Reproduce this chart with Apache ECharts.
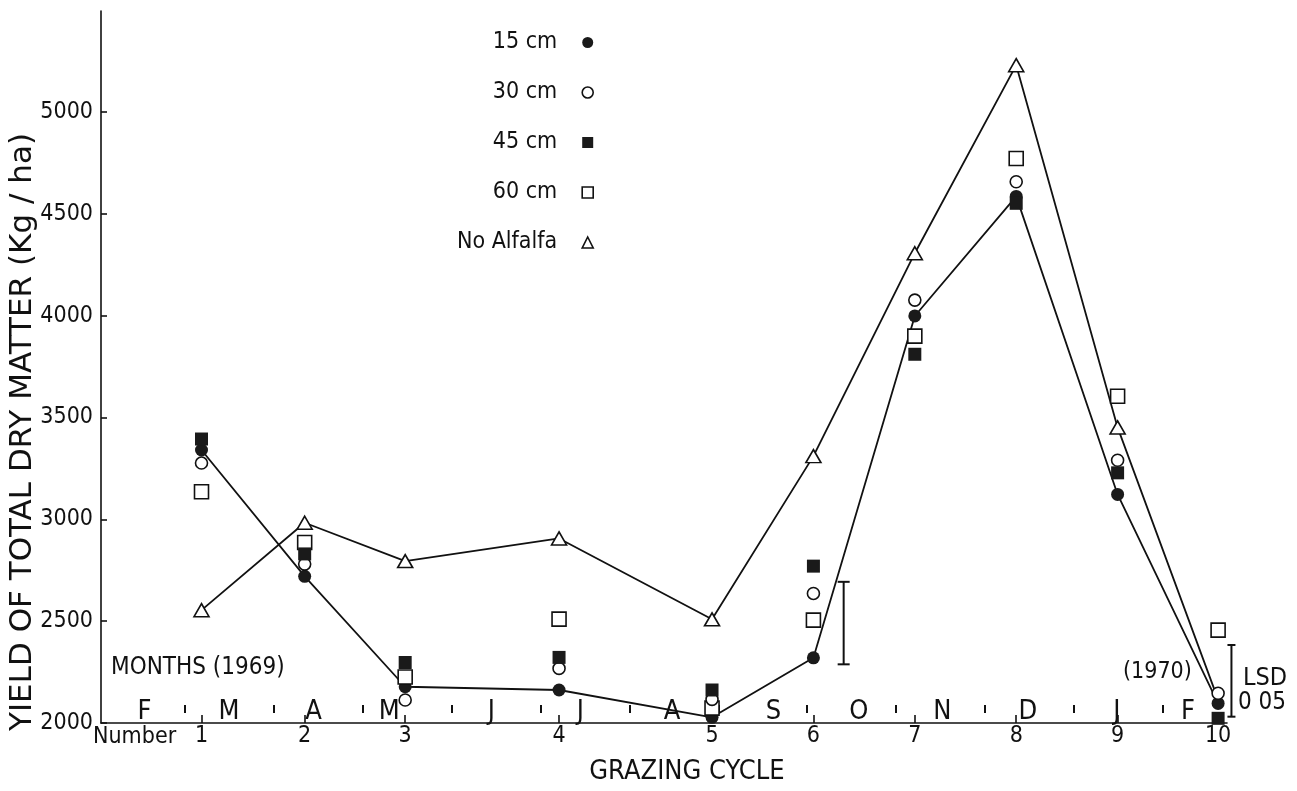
<!DOCTYPE html>
<html><head><meta charset="utf-8">
<script src="https://cdn.jsdelivr.net/npm/echarts@6/dist/echarts.min.js"></script>
<style>html,body{margin:0;padding:0;background:#fff}#c{width:1297px;height:791px}</style>
</head><body><div id="c"></div>
<script>
// ---- data ----
const cycles = ['1','2','3','4','5','6','7','8','9','10'];
// position of each grazing cycle on the month scale (months after 1 Feb 1969)
const cycleMonth = [1.19, 2.35, 3.48, 5.21, 6.93, 8.07, 9.21, 10.35, 11.49, 12.62];
const cm15 = [3340, 2720, 2178, 2162, 2028, 2320, 3998, 4585, 3122, 2096];
const cm30 = [3276, 2780, 2113, 2268, 2116, 2636, 4076, 4657, 3290, 2146];
const cm45 = [3394, 2830, 2297, 2322, 2162, 2770, 3810, 4551, 3228, 2023];
const cm60 = [3135, 2886, 2226, 2510, 2073, 2505, 3899, 4771, 3604, 2456];
const noAlfalfa = [2554, 2983, 2795, 2906, 2509, 3310, 4306, 5229, 3451, 2115];
const monthLetters = ['F','M','A','M','J','J','A','S','O','N','D','J','F'];
const monthPos = [0.55, 1.5, 2.45, 3.3, 4.45, 5.45, 6.48, 7.62, 8.58, 9.52, 10.48, 11.48, 12.28];
const monthBounds = [1,2,3,4,5,6,7,8,9,10,11,12];
const lsdX = [8.41, 12.77];
const lsdLow = [2288, 2031];
const lsdHigh = [2693, 2383];
const seriesNames = ['15 cm','30 cm','45 cm','60 cm','No Alfalfa'];

// ---- chart ----
const FONT = '"DejaVu Sans Condensed", "DejaVu Sans", sans-serif';
const WIDE = '"DejaVu Sans", sans-serif';
const INK = '#111';
const DARK = '#1a1a1a';
const XMIN = 0.06, XMAX = 12.72;

const chart = echarts.init(document.getElementById('c'), null, {renderer:'canvas'});

function pts(arr){ return cycleMonth.map((x,i)=>[x, arr[i]]); }
function nearestIdx(list, v){
  let b = 0; for (let i=1;i<list.length;i++) if (Math.abs(list[i]-v) < Math.abs(list[b]-v)) b = i; return b;
}

const openStyle = {color:'#fff', borderColor:INK, borderWidth:1.6, opacity:1};
const fillStyle = {color:DARK, borderColor:DARK, borderWidth:0, opacity:1};

const option = {
  animation: false,
  backgroundColor: '#fff',
  textStyle: {fontFamily: FONT, color: INK},
  grid: {left:101, top:11, right:70, bottom:68, containLabel:false},
  legend: {
    orient: 'vertical', align: 'right', right: 703, top: 31, padding: 0,
    itemWidth: 11, itemHeight: 11, itemGap: 27, selectedMode: false,
    textStyle: {fontFamily: FONT, fontSize: 23, color: INK, padding:[0,20,0,0]},
    data: [
      {name: seriesNames[0], icon:'circle', itemStyle: fillStyle},
      {name: seriesNames[1], icon:'circle', itemStyle: openStyle},
      {name: seriesNames[2], icon:'rect', itemStyle: fillStyle},
      {name: seriesNames[3], icon:'rect', itemStyle: openStyle},
      {name: seriesNames[4], icon:'triangle', itemStyle: openStyle}
    ]
  },
  xAxis: [
    { type:'value', min:XMIN, max:XMAX, position:'bottom',
      axisLine:{show:true, onZero:false, lineStyle:{color:INK, width:1.6}},
      axisTick:{show:true, inside:true, length:8, customValues: cycleMonth, lineStyle:{color:INK, width:1.6}},
      axisLabel:{show:true, customValues: cycleMonth, margin:2, fontSize:23, fontFamily:FONT, color:INK,
                 formatter: v => cycles[nearestIdx(cycleMonth, v)]},
      splitLine:{show:false}
    },
    { type:'value', min:XMIN, max:XMAX, position:'bottom', offset:-10,
      axisLine:{show:false},
      axisTick:{show:true, inside:true, length:8, customValues: monthBounds, lineStyle:{color:INK, width:2}},
      axisLabel:{show:false}, splitLine:{show:false}
    },
    { type:'value', min:XMIN, max:XMAX, position:'bottom', offset:-25,
      axisLine:{show:false}, axisTick:{show:false},
      axisLabel:{show:true, customValues: monthPos, margin:0, fontSize:27, fontFamily:FONT, color:INK,
                 formatter: v => monthLetters[nearestIdx(monthPos, v)]},
      splitLine:{show:false}
    }
  ],
  yAxis: {
    type:'value', min:2000, max:5495, interval:500,
    axisLine:{show:true, onZero:false, lineStyle:{color:INK, width:1.6}},
    axisTick:{show:true, inside:true, length:6, lineStyle:{color:INK, width:1.6}},
    axisLabel:{show:true, margin:8, fontSize:23, fontFamily:FONT, color:INK, showMaxLabel:false,
               formatter: v => String(v)},
    splitLine:{show:false}
  },
  series: [
    { name: seriesNames[4], type:'line', data: pts(noAlfalfa).map((p,i)=> i===9 ? {value:p, symbol:'none'} : {value:p}),
      symbol:'triangle', symbolSize:[15,13], showAllSymbol:true,
      itemStyle: openStyle, lineStyle:{color:INK, width:1.8}, z:3 },
    { name: seriesNames[0], type:'line', data: pts(cm15),
      symbol:'circle', symbolSize:13, showAllSymbol:true,
      itemStyle: fillStyle, lineStyle:{color:INK, width:1.8}, z:4 },
    { name: seriesNames[3], type:'scatter', data: pts(cm60),
      symbol:'rect', symbolSize:14, itemStyle: openStyle, z:5 },
    { name: seriesNames[1], type:'scatter', data: pts(cm30),
      symbol:'circle', symbolSize:12, itemStyle: openStyle, z:5 },
    { name: seriesNames[2], type:'scatter', data: pts(cm45),
      symbol:'rect', symbolSize:13, itemStyle: fillStyle, z:6 },
    { name: 'LSD 0.05', type:'custom', clip:false, silent:true, z:7,
      data: lsdX.map((x,i)=>[x, lsdLow[i], lsdHigh[i]]),
      renderItem: function(params, api){
        const lo = api.coord([api.value(0), api.value(1)]);
        const hi = api.coord([api.value(0), api.value(2)]);
        const w = params.dataIndex === 0 ? 6 : 4;
        const st = {stroke:INK, lineWidth:2};
        return {type:'group', children:[
          {type:'line', shape:{x1:lo[0], y1:lo[1], x2:hi[0], y2:hi[1]}, style:st},
          {type:'line', shape:{x1:lo[0]-w, y1:lo[1], x2:lo[0]+w, y2:lo[1]}, style:st},
          {type:'line', shape:{x1:hi[0]-w, y1:hi[1], x2:hi[0]+w, y2:hi[1]}, style:st}
        ]};
      }
    }
  ],
  graphic: [
    {type:'text', x:23, y:432, rotation:Math.PI/2, silent:true,
     style:{text:'YIELD OF TOTAL DRY MATTER (Kg / ha)', font:'31px ' + WIDE, fill:INK, align:'center', verticalAlign:'middle'}},
    {type:'text', x:93, y:737, silent:true,
     style:{text:'Number', font:'23px ' + FONT, fill:INK, align:'left', verticalAlign:'middle'}},
    {type:'text', x:687, y:772, silent:true,
     style:{text:'GRAZING CYCLE', font:'27px ' + FONT, fill:INK, align:'center', verticalAlign:'middle'}},
    {type:'text', x:111, y:668, silent:true,
     style:{text:'MONTHS (1969)', font:'24px ' + FONT, fill:INK, align:'left', verticalAlign:'middle'}},
    {type:'text', x:1123, y:672, silent:true,
     style:{text:'(1970)', font:'23px ' + FONT, fill:INK, align:'left', verticalAlign:'middle'}},
    {type:'text', x:1243, y:678, silent:true,
     style:{text:'LSD', font:'25px ' + FONT, fill:INK, align:'left', verticalAlign:'middle'}},
    {type:'text', x:1238, y:703, silent:true,
     style:{text:'0 05', font:'24px ' + FONT, fill:INK, align:'left', verticalAlign:'middle'}}
  ]
};
chart.setOption(option);
</script>
</body></html>
